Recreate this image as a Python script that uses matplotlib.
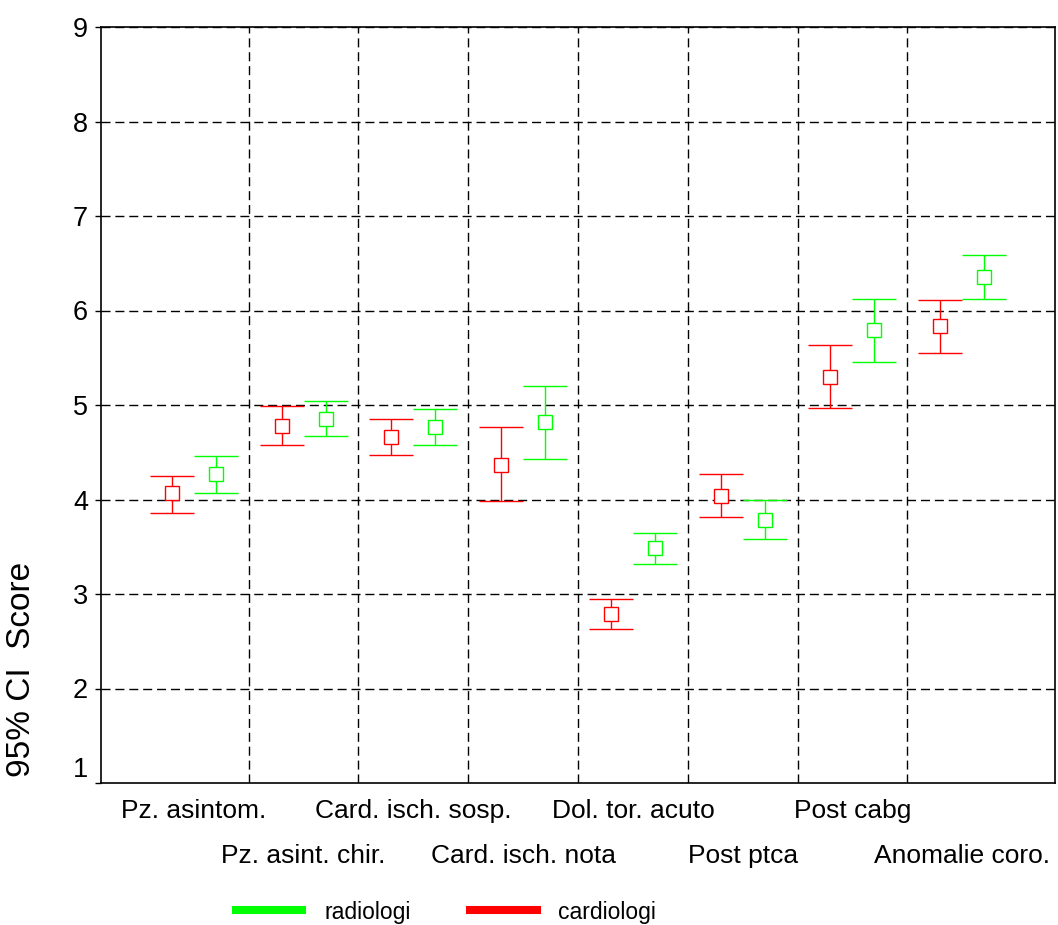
import numpy as np
import matplotlib
matplotlib.use('Agg')
import matplotlib.pyplot as plt
from matplotlib.lines import Line2D
from matplotlib.transforms import blended_transform_factory

plt.rcParams['font.family'] = ['Liberation Sans', 'DejaVu Sans']

# ── Data ──
categories = ['Pz. asintom.', 'Pz. asint. chir.', 'Card. isch. sosp.', 'Card. isch. nota',
              'Dol. tor. acuto', 'Post ptca', 'Post cabg', 'Anomalie coro.']

card_mean = [4.07, 4.78, 4.66, 4.37, 2.79, 4.04, 5.30, 5.84]
card_low = [3.86, 4.58, 4.47, 3.98, 2.63, 3.81, 4.97, 5.55]
card_high = [4.25, 4.99, 4.85, 4.77, 2.95, 4.27, 5.63, 6.11]

rad_mean = [4.27, 4.85, 4.77, 4.82, 3.49, 3.78, 5.79, 6.35]
rad_low = [4.07, 4.67, 4.58, 4.43, 3.32, 3.58, 5.45, 6.12]
rad_high = [4.46, 5.04, 4.96, 5.20, 3.65, 4.00, 6.12, 6.59]

y_ticks = [1, 2, 3, 4, 5, 6, 7, 8, 9]

RED = '#ff0000'
GREEN = '#00ff00'

fig = plt.figure(figsize=(10.58, 9.25), dpi=100)
ax = fig.add_axes([101/1058, 1 - 783/925, (1055-101)/1058, (783-27)/925])

x = np.arange(1, len(categories) + 1)
off = 0.2

def draw(xpos, mean, low, high, color):
    mean = np.array(mean)
    yerr = [mean - np.array(low), np.array(high) - mean]
    ax.errorbar(xpos, mean, yerr=yerr, fmt='s', color=color, ecolor=color,
                elinewidth=1.0, capsize=15.8, capthick=1.0,
                markersize=9.4, markerfacecolor='white', markeredgecolor=color,
                markeredgewidth=1.0, zorder=3)

draw(x - off, card_mean, card_low, card_high, RED)
draw(x + off, rad_mean, rad_low, rad_high, GREEN)

# ── Axes / grid ──
ax.set_xlim(0.155, 8.845)
ax.set_ylim(1, 9)
ax.set_yticks(y_ticks)
ax.set_yticklabels([str(v) for v in y_ticks])
ax.set_xticks([])
dash = (0, (6.5, 3.5))
for yv in y_ticks[1:]:
    ax.axhline(yv, color='black', lw=1.0, linestyle=dash, zorder=1)
for xv in x[:-1] + 0.5:
    ax.axvline(xv, color='black', lw=1.0, linestyle=dash, zorder=1)

ax.tick_params(axis='y', direction='out', length=4.3, width=1.0, pad=5,
               labelsize=19.5)
ax.get_yticklabels()[0].set_verticalalignment('bottom')
for s in ax.spines.values():
    s.set_linewidth(1.2)

# staggered category labels
trans = blended_transform_factory(ax.transData, ax.transAxes)
for i, (xi, lab) in enumerate(zip(x, categories)):
    yy = -0.0463 if i % 2 == 0 else -0.1058
    ax.text(xi, yy, lab, transform=trans, ha='center', va='baseline', fontsize=19)

fig.text(22/1058, 1 - 669/925, '95% CI  Score', rotation=90, ha='center',
         va='center', fontsize=24)

# ── Legend ──
handles = [Line2D([], [], color=GREEN, lw=5.8), Line2D([], [], color=RED, lw=5.8)]
fig.legend(handles, ['radiologi', 'cardiologi'], ncol=2, frameon=False,
           loc='center left', bbox_to_anchor=(236/1058, 1 - 912/925),
           borderaxespad=0, borderpad=0, handlelength=2.9, handletextpad=0.95,
           columnspacing=2.6, fontsize=16.5)

fig.savefig('out.png', dpi=100)
